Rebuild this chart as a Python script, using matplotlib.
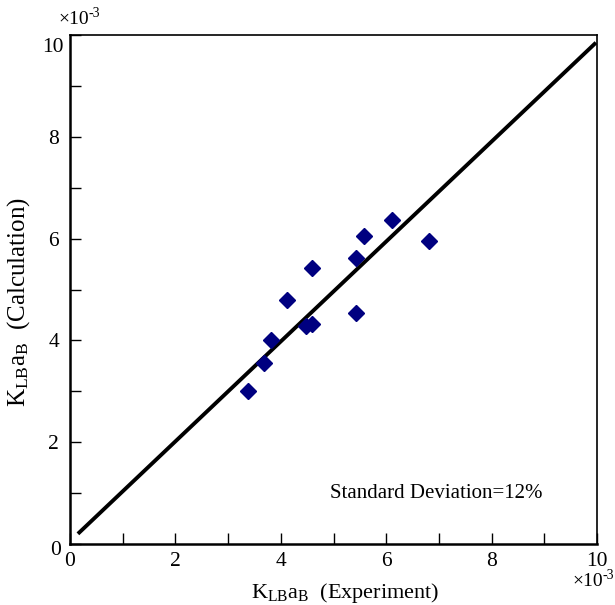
import matplotlib
matplotlib.use("Agg")
import matplotlib.pyplot as plt
from matplotlib.ticker import MultipleLocator

plt.rcParams['font.family'] = ['Liberation Serif', 'DejaVu Serif']
plt.rcParams['mathtext.fontset'] = 'custom'
plt.rcParams['mathtext.rm'] = 'Liberation Serif'
plt.rcParams['mathtext.it'] = 'Liberation Serif:italic'

# data (x10^-3)
exp_vals = [3.37, 3.69, 3.81, 4.12, 4.48, 4.60, 4.59, 5.42, 5.42, 5.58, 6.11, 6.82]
calc_vals = [3.01, 3.55, 4.00, 4.80, 4.28, 4.33, 5.43, 4.54, 5.61, 6.05, 6.37, 5.96]
line_x = [0.15, 9.98]
line_y = [0.20, 9.85]
x_ticks = [0, 2, 4, 6, 8, 10]
y_ticks = [0, 2, 4, 6, 8, 10]

fig = plt.figure(figsize=(6.15, 6.05), dpi=100)
ax = fig.add_axes([70/615, 1-544/605, (597-70)/615, (544-35)/605])

ax.plot(line_x, line_y, color='black', lw=2.8, solid_capstyle='butt')
ax.plot(exp_vals, calc_vals, linestyle='none', marker='D', markersize=8.5,
        color='#000080', markeredgecolor='#000080')

ax.set_xlim(0, 10)
ax.set_ylim(0, 10)
ax.xaxis.set_major_locator(MultipleLocator(2))
ax.xaxis.set_minor_locator(MultipleLocator(1))
ax.yaxis.set_major_locator(MultipleLocator(2))
ax.yaxis.set_minor_locator(MultipleLocator(1))
ax.tick_params(which='both', direction='in', length=8, width=1, top=False, right=False,
               labelsize=15.5)
ax.tick_params(axis='x', pad=6)
ax.tick_params(axis='y', pad=8)

ax.set_xticks(x_ticks)
ax.set_xticklabels([str(v) for v in x_ticks])
ax.set_yticks(y_ticks)
ylabels = [str(v) for v in y_ticks]
ylabels[0] = ''
ylabels[-1] = ''
ax.set_yticklabels(ylabels)
ax.text(-0.018, -0.012, '0', transform=ax.transAxes, ha='right', va='center', fontsize=15.5)
ax.text(-0.012, 0.975, '10', transform=ax.transAxes, ha='right', va='center', fontsize=15.5)

for side in ['left', 'bottom']:
    ax.spines[side].set_linewidth(1.8)
for side in ['top', 'right']:
    ax.spines[side].set_linewidth(1.2)

ax.set_xlabel(r'K$_\mathrm{LB}$a$_\mathrm{B}$  (Experiment)', fontsize=16)
ax.xaxis.set_label_coords(0.522, -0.072)
ax.set_ylabel(r'K$_\mathrm{LB}$a$_\mathrm{B}$  (Calculation)', fontsize=18)
ax.yaxis.set_label_coords(-0.072, 0.475)


def sci_label(x, y):
    t = fig.text(x, y, '×10', fontsize=14, ha='left', va='center')
    ax.annotate('-3', xy=(1.0, 1.22), xycoords=t, fontsize=10, ha='left', va='top')


sci_label(58/615, 1-19/605)
sci_label(572/615, 1-581/605)

fig.text(330/615, 1-493/605, 'Standard Deviation=12%', fontsize=15, ha='left', va='center')

fig.savefig('out.png', dpi=100)
